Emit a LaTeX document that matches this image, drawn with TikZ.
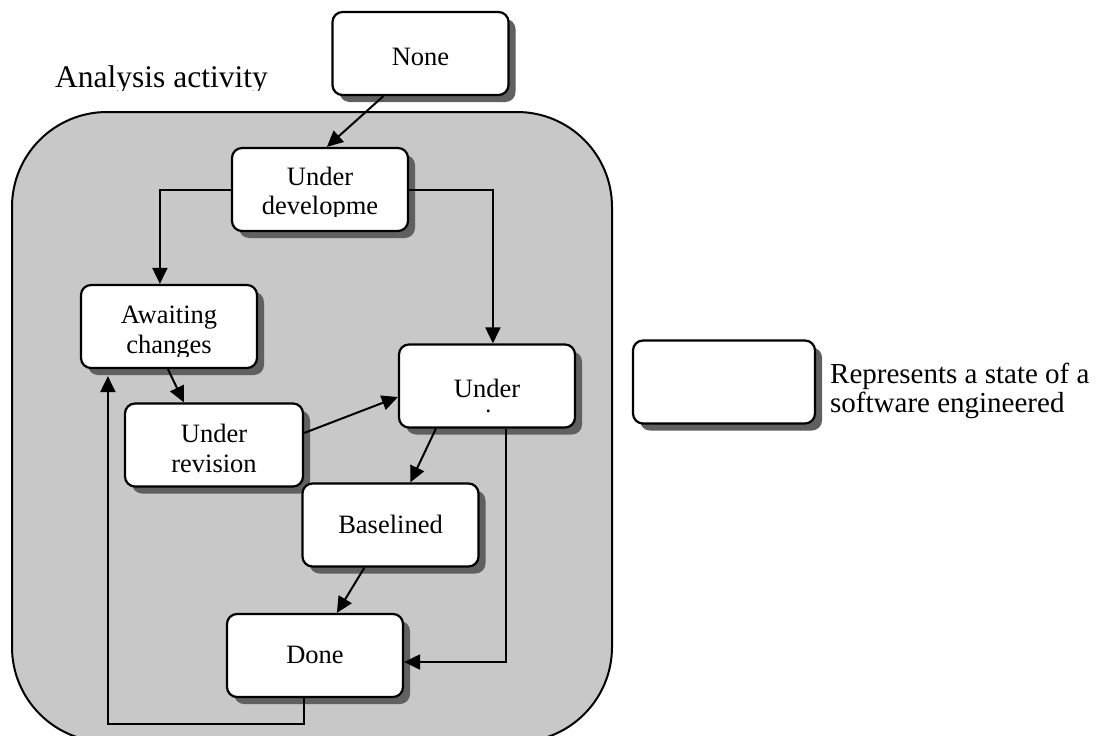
\documentclass[tikz,border=0pt]{standalone}
\usepackage{fontspec}
\setmainfont{Liberation Serif}
\usetikzlibrary{arrows.meta,shadows}
\definecolor{panel}{RGB}{200,200,200}
\definecolor{shade}{RGB}{96,96,96}
\tikzset{
  state/.style={draw, line width=2.2pt, fill=white, rounded corners=10pt,
    minimum width=176pt, minimum height=83pt, inner sep=0pt,
    drop shadow={shadow xshift=7pt, shadow yshift=-7pt, fill=shade, opacity=1}},
  lbl/.style={anchor=base, inner sep=0pt, font=\fontsize{26.5}{30}\selectfont},
  flow/.style={line width=2pt, -{Triangle[length=16pt,width=15pt]}},
}
\begin{document}
\begin{tikzpicture}[x=1pt,y=-1pt]
\clip (0,0) rectangle (1098,736);

% activity container
\path[draw=black, line width=2pt, fill=panel, rounded corners=95pt]
  (12,112) rectangle (612,742);
\begin{scope}
  \clip (0,0) rectangle (400,90);
  \node[lbl, anchor=base west, font=\fontsize{31.5}{34}\selectfont] (title) at (55,87) {Analysis activity};
\end{scope}

% states
\node[state] (none) at (420.5,53.5) {};
\node[lbl] at (420.5,65) {None};

\node[state] (dev) at (320,189.5) {};
\node[lbl] at (320,185) {Under};
\begin{scope}
  \clip (232,150) rectangle (408,216.5);
  \node[lbl] at (320,214) {developme};
\end{scope}

\node[state] (await) at (169,326.5) {};
\node[lbl] at (169,323) {Awaiting};
\begin{scope}
  \clip (82,287) rectangle (256,356);
  \node[lbl] at (169,353) {changes};
\end{scope}

\node[state] (review) at (487,386) {};
\node[lbl] at (487,397) {Under};
\begin{scope}
  \clip (399,346) rectangle (575,413.5);
  \node[lbl] at (487,427) {review};
\end{scope}

\node[state, minimum width=178pt] (revision) at (214,445) {};
\node[lbl] at (214,442) {Under};
\node[lbl] at (214,472) {revision};

\node[state] (base) at (390.5,525) {};
\node[lbl] at (390.5,533) {Baselined};

\node[state] (done) at (315,655.5) {};
\node[lbl] at (315,663) {Done};

% key
\node[state, minimum width=182pt] (key) at (724,382) {};
\node[lbl, anchor=base west, font=\fontsize{29}{30}\selectfont] at (830,383) {Represents a state of a};
\node[lbl, anchor=base west, font=\fontsize{29}{30}\selectfont] at (830,412) {software engineered};

% transitions
\draw[flow] ([xshift=52pt]none.south west) -- ([xshift=96pt]dev.north west);
\draw[flow] (dev.west) -| ([xshift=80pt]await.north west);
\draw[flow] (dev.east) -| ([xshift=95pt]review.north west);
\draw[flow] ([xshift=88pt]await.south west) -- ([xshift=60pt]revision.north west);
\draw[flow] ([yshift=12pt]revision.east) -- ([yshift=-11pt]review.west);
\draw[flow] ([xshift=38pt]review.south west) -- ([xshift=109pt]base.north west);
\draw[flow] ([xshift=108pt]review.south west) |- ([yshift=-6.5pt]done.east);
\draw[flow] ([xshift=63pt]base.south west) -- ([xshift=111pt]done.north west);
\draw[flow] ([xshift=78pt]done.south west) -- ++(0,26) -| ([xshift=28pt,yshift=-7pt]await.south west);
\end{tikzpicture}
\end{document}
